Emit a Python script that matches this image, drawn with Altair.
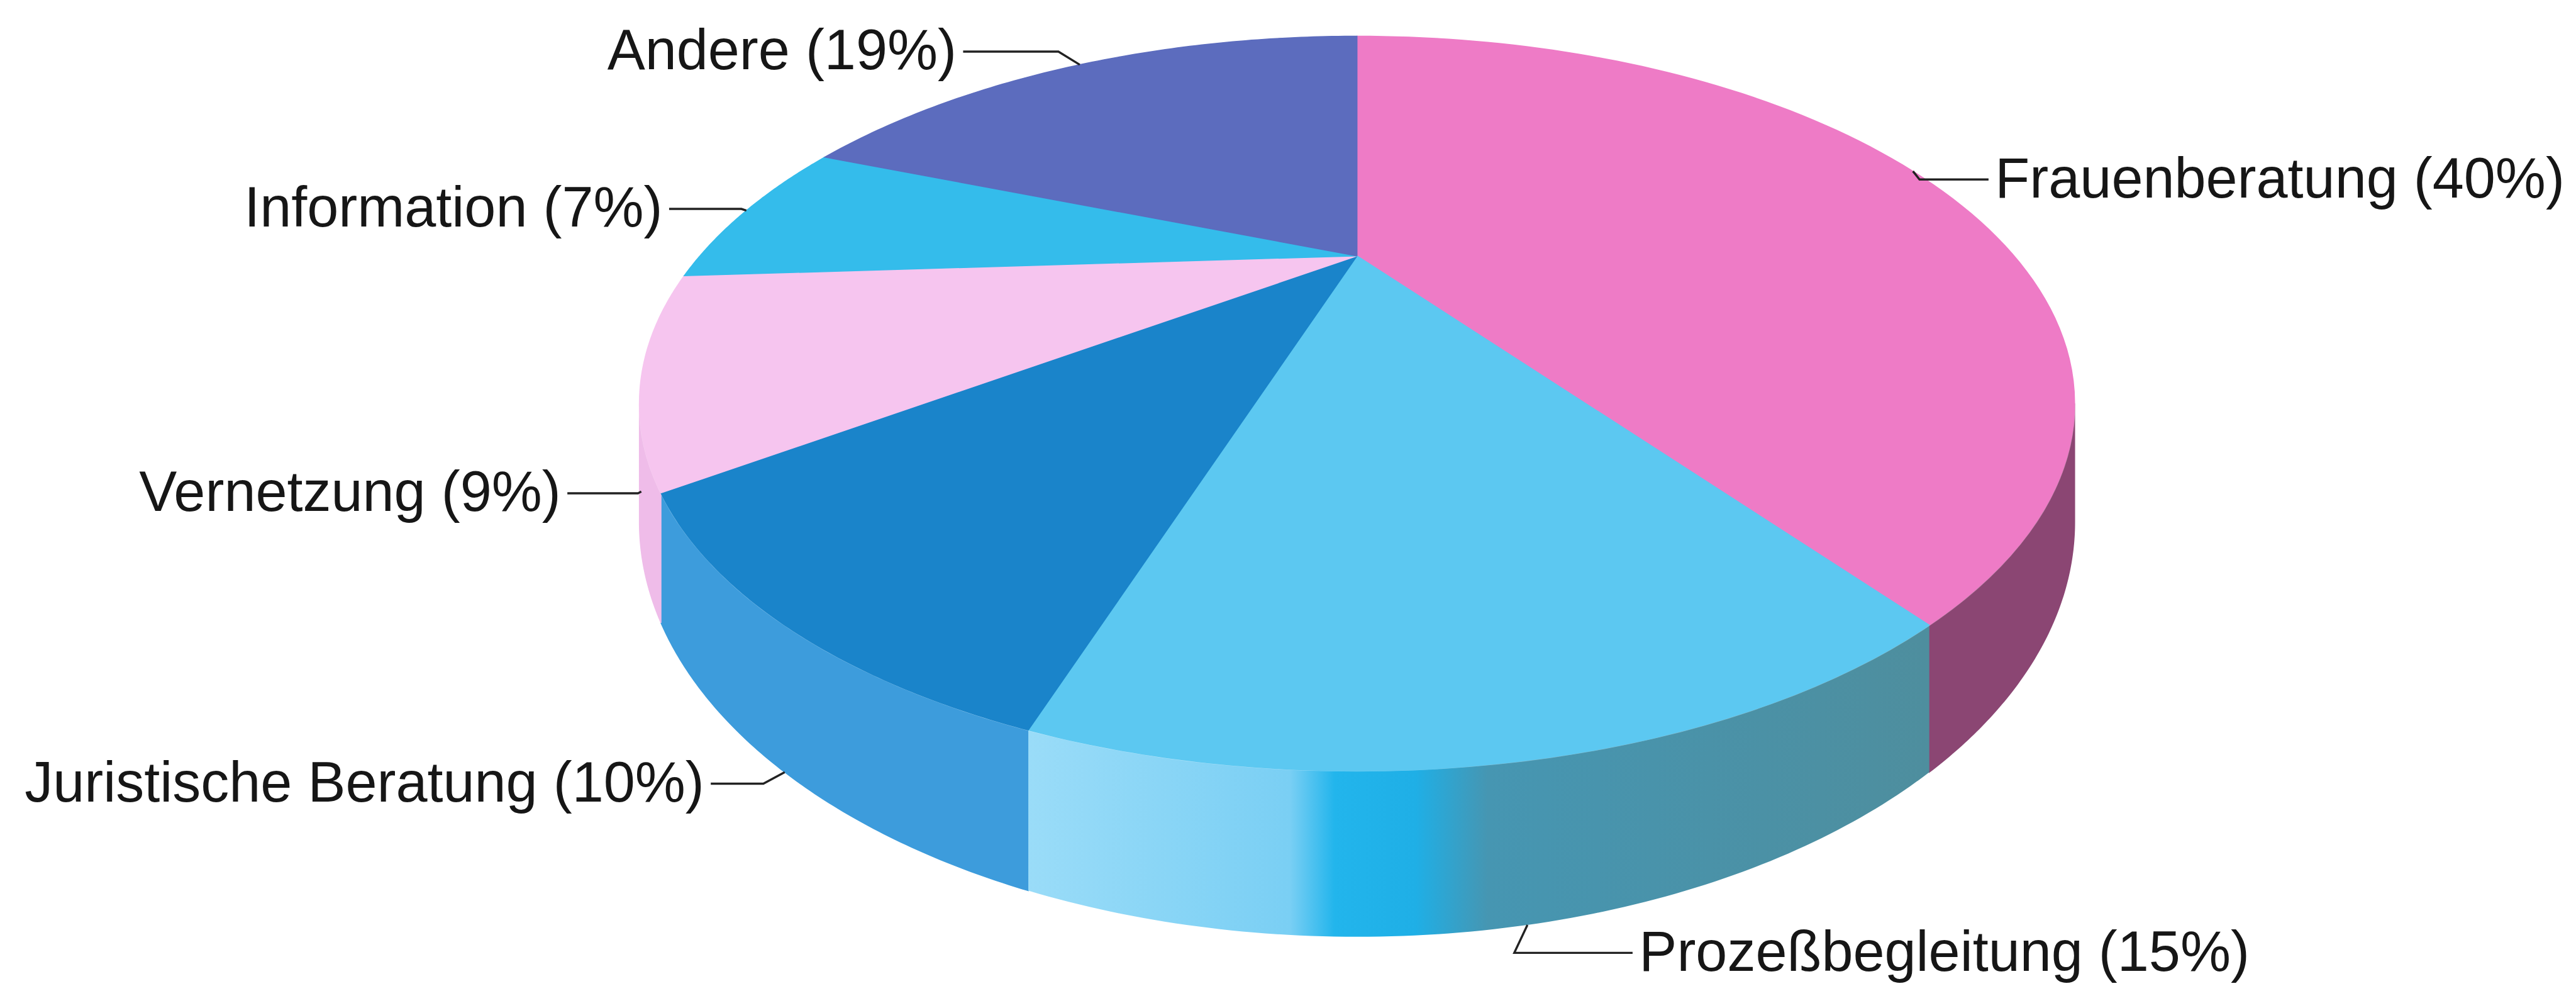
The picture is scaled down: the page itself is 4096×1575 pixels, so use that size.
import math
import altair as alt
import numpy as np
import pandas as pd

# ---------------- data ----------------
categories = ["Frauenberatung", "Prozeßbegleitung", "Juristische Beratung",
              "Vernetzung", "Information", "Andere"]
percents = [40, 15, 10, 9, 7, 19]
labels = ["Frauenberatung (40%)", "Prozeßbegleitung (15%)", "Juristische Beratung (10%)",
          "Vernetzung (9%)", "Information (7%)", "Andere (19%)"]

# ---------------- style ----------------
top_colors = ["#EE7BC6", "#5CC8F1", "#1A84CA", "#F6C5EF", "#34BCEB", "#5C6CBE"]
wall_colors = ["#8B4673", "#4FB4DE", "#3D9CDC", "#EFBCE9", "#2FA9DA", "#4F5EA8"]
wall_gradients = {
    "Prozeßbegleitung": [(0.0, "#9ADCF8"), (0.29, "#7ACFF4"), (0.34, "#22B5EC"),
                         (0.43, "#1FAFE6"), (0.51, "#4696B2"), (1.0, "#4E8E9E")],
}
# leader-line shape (units: pixels of the 1568-wide reference view)
leader_elbow_dx = [4, -8, -13, -2, -3, -13]
leader_elbow_dy = [5, 17, 7, 1, -1, -8]
leader_run = [42, 72, -32, -43, -44, -58]

# ---------------- view geometry ----------------
SC = 4096 / 1568
PW, PH = 4080, 1559
X_DOM = [8 / SC, (8 + PW) / SC]
Y_DOM = [8 / SC, (8 + PH) / SC]

CX, CY = 826.0, 155.7     # pie centre
SX, SY = 400.0, 187.4     # radii on screen
K = 0.4018                # perspective strength
DEPTH = 60.4              # wall thickness
FONT = 90
N = 90

A_MIN = math.degrees(math.acos(-K))
A_MAX = 360 - A_MIN

pct = np.array(percents, dtype=float)
ends = np.cumsum(pct) * 3.6
starts = ends - pct * 3.6
mids = (starts + ends) / 2

xenc = alt.X("px:Q", scale=alt.Scale(domain=X_DOM, nice=False, zero=False), axis=None)
yenc = alt.Y("py:Q", scale=alt.Scale(domain=Y_DOM, nice=False, zero=False, reverse=True), axis=None)


def projected(base, ang, r="1", z="0"):
    return (base
            .transform_calculate(ang=ang)
            .transform_calculate(X=f"({r})*sin(datum.ang)")
            .transform_calculate(Y=f"({r})*cos(datum.ang)")
            .transform_calculate(den=f"1 + {K}*datum.Y")
            .transform_calculate(px=f"{CX} + {SX}*datum.X/datum.den")
            .transform_calculate(py=f"{CY} + (-{SY}*datum.Y + {DEPTH}*({z}))/datum.den"))


ARC = f"(datum.a0 + (datum.a1 - datum.a0) * datum.j / {N}) * PI / 180"

# ---- top faces ----
top_rows = []
for i, c in enumerate(categories):
    base = dict(cat=c, a0=starts[i], a1=ends[i], col=top_colors[i])
    top_rows.append(dict(base, j=0, r=0, ord=-1))
    for j in range(N + 1):
        top_rows.append(dict(base, j=j, r=1, ord=j))
    top_rows.append(dict(base, j=0, r=0, ord=N + 1))
top_df = pd.DataFrame(top_rows)

tops = projected(alt.Chart(top_df), ARC, r="datum.r").mark_line(
    filled=True, strokeWidth=1.5, interpolate="linear").encode(
    x=xenc, y=yenc,
    color=alt.Color("col:N", scale=None),
    stroke=alt.Stroke("col:N", scale=None),
    detail="cat:N", order=alt.Order("ord:Q"))

# ---- side walls ----
wall_rows = []
for i, c in enumerate(categories):
    a0, a1 = max(starts[i], A_MIN), min(ends[i], A_MAX)
    if a0 >= a1:
        continue
    base = dict(cat=c, a0=a0, a1=a1, col=wall_colors[i])
    for j in range(N + 1):
        wall_rows.append(dict(base, j=j, z=0, ord=j))
    for j in range(N, -1, -1):
        wall_rows.append(dict(base, j=j, z=1, ord=2 * N + 1 - j))
    wall_rows.append(dict(base, j=0, z=0, ord=2 * N + 2))
wall_df = pd.DataFrame(wall_rows)

flat_df = wall_df[~wall_df["cat"].isin(list(wall_gradients))]
walls_flat = projected(alt.Chart(flat_df), ARC, z="datum.z").mark_line(
    filled=True, strokeWidth=1.5).encode(
    x=xenc, y=yenc,
    color=alt.Color("col:N", scale=None),
    stroke=alt.Stroke("col:N", scale=None),
    detail="cat:N", order=alt.Order("ord:Q"))

grad_layers = []
for c, stops in wall_gradients.items():
    g = alt.Gradient(gradient="linear",
                     stops=[alt.GradientStop(offset=o, color=col) for o, col in stops],
                     x1=0, x2=1, y1=0, y2=0)
    sub = wall_df[wall_df["cat"] == c]
    grad_layers.append(
        projected(alt.Chart(sub), ARC, z="datum.z").mark_line(
            filled=True, fill=g, strokeWidth=0).encode(
            x=xenc, y=yenc, order=alt.Order("ord:Q")))

# ---- rim highlight along the front edge ----
rim_df = pd.DataFrame([dict(a0=A_MIN, a1=A_MAX, j=j) for j in range(N + 1)])
rim = projected(alt.Chart(rim_df), ARC).mark_line(
    color="#FFFFFF", opacity=0.35, strokeWidth=2.5).encode(
    x=xenc, y=yenc, order=alt.Order("j:Q"))

# ---- leader lines ----
lead_rows = []
for i, c in enumerate(categories):
    for p in range(3):
        lead_rows.append(dict(cat=c, mid=mids[i], p=p, edx=leader_elbow_dx[i],
                              edy=leader_elbow_dy[i], run=leader_run[i]))
lead_df = pd.DataFrame(lead_rows)


def anchored(base):
    return (base
            .transform_calculate(ang="datum.mid * PI / 180")
            .transform_calculate(X="sin(datum.ang)")
            .transform_calculate(Y="cos(datum.ang)")
            .transform_calculate(den=f"1 + {K}*datum.Y")
            .transform_calculate(ax=f"{CX} + {SX}*datum.X/datum.den")
            .transform_calculate(ay=f"{CY} + (-{SY}*datum.Y + (datum.Y < 0 ? {DEPTH} : 0))/datum.den"))


leaders = anchored(alt.Chart(lead_df)).transform_calculate(
    px="datum.ax + (datum.p >= 1 ? datum.edx : 0) + (datum.p == 2 ? datum.run : 0)"
).transform_calculate(
    py="datum.ay + (datum.p >= 1 ? datum.edy : 0)"
).mark_line(color="#222222", strokeWidth=3.4).encode(
    x=xenc, y=yenc, detail="cat:N", order=alt.Order("p:Q"))

# ---- labels ----
lab_df = pd.DataFrame(dict(cat=categories, label=labels, mid=mids,
                           edx=leader_elbow_dx, edy=leader_elbow_dy, run=leader_run))


def label_layer(side):
    cond = "datum.run > 0" if side == "left" else "datum.run < 0"
    return (anchored(alt.Chart(lab_df))
            .transform_filter(cond)
            .transform_calculate(px="datum.ax + datum.edx + datum.run + (datum.run > 0 ? 4 : -4)")
            .transform_calculate(py="datum.ay + datum.edy + 0.5")
            .mark_text(align=side, baseline="middle", font="Liberation Sans",
                       fontSize=FONT, color="#161616")
            .encode(x=xenc, y=yenc, text="label:N"))


chart = alt.layer(
    walls_flat, *grad_layers, rim, tops, leaders, label_layer("left"), label_layer("right")
).properties(
    width=PW, height=PH, padding=0,
    autosize=alt.AutoSizeParams(type="none"),
    background="white",
).configure_view(strokeWidth=0)

chart.save("out.html", embed_options={"renderer": "svg", "actions": False})
